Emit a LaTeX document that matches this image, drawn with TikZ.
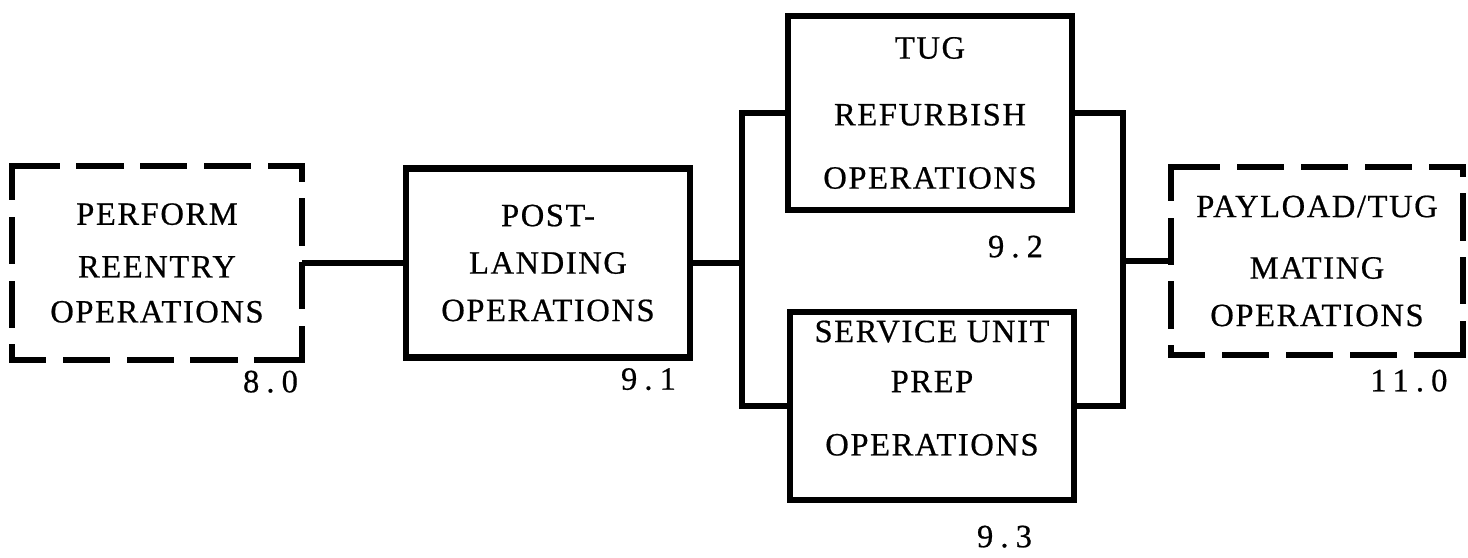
\documentclass[tikz,border=0pt]{standalone}
\usepackage{fontspec}
\setmainfont{Liberation Serif}[LetterSpace=5, FakeBold=0.6]
\usetikzlibrary{positioning}
\newcommand{\opfont}{\fontsize{18.5}{27}\selectfont}
\tikzset{
  opbox/.style={draw, line width=3.8pt, minimum width=5.68cm, align=center, inner sep=0pt, font=\opfont},
  extbox/.style={opbox, draw=none},
  extside/.style={line width=3.6pt, line cap=rect, dash pattern=on 0.82cm off 0.46cm, dash phase=0.2cm},
  numlabel/.style={anchor=north east, inner sep=0pt, font=\opfont\addfontfeature{LetterSpace=22}},
  link/.style={line width=3.2pt}
}

\begin{document}
\begin{tikzpicture}[x=0.02cm, y=-0.02cm]
  \useasboundingbox (0,0) rectangle (1468,558);

  \node[extbox, minimum height=3.76cm] (reentry) at (157,263) {PERFORM\\[3pt] REENTRY\\[-1.4pt] OPERATIONS};
  \node[opbox, minimum height=3.78cm] (landing) at (548,263) {POST-\\ LANDING\\ OPERATIONS};
  \node[opbox, minimum height=3.88cm] (refurb) at (930,113) {TUG\\[11pt] REFURBISH\\[9pt] OPERATIONS};
  \node[opbox, minimum height=3.76cm] (prep) at (932,406) {SERVICE UNIT\\[1.5pt] PREP\\[9pt] OPERATIONS\\[-6.5pt]\mbox{}};
  \node[extbox, minimum height=3.64cm, minimum width=5.7cm] (mating) at (1317,261) {PAYLOAD/TUG\\[8pt] MATING\\ OPERATIONS};

  \foreach \frm in {reentry, mating}
    \foreach \from/\to in {south west/south east, south east/north east, north east/north west, north west/south west}
      \draw[extside] (\frm.\from) -- (\frm.\to);

  \node[numlabel] at ([xshift=-0.08cm, yshift=-0.2cm]reentry.south east) {8.0};
  \node[numlabel] at ([xshift=-0.34cm, yshift=-0.14cm]landing.south east) {9.1};
  \node[numlabel] at ([xshift=-0.64cm, yshift=-0.44cm]refurb.south east) {9.2};
  \node[numlabel] at ([xshift=-0.9cm, yshift=-0.44cm]prep.south east) {9.3};
  \node[numlabel] at ([xshift=-0.3cm, yshift=-0.28cm]mating.south east) {11.0};

  \coordinate (forkL) at (742,263);
  \coordinate (forkR) at (1123,261);

  \draw[link] (reentry.east) -- (landing.west);
  \draw[link] (landing.east) -- (forkL);
  \draw[link] (refurb.west) -| (forkL) |- (prep.west);
  \draw[link] (refurb.east) -| (forkR) |- (prep.east);
  \draw[link] (forkR) -- (mating.west);
\end{tikzpicture}
\end{document}
